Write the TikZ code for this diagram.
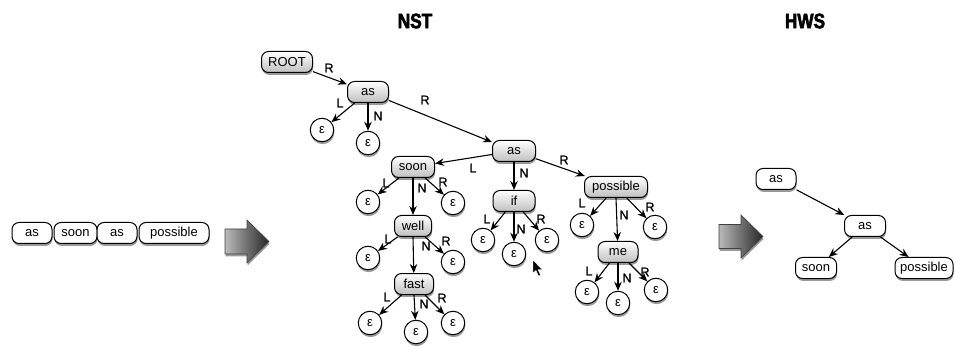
\documentclass[tikz,border=0pt]{standalone}
\usepackage{fontspec}
\setmainfont{Liberation Sans}
\newfontfamily\titlefont{Liberation Sans}[UprightFont={* Bold}, FakeBold=2.5, FakeStretch=0.82]
\newfontfamily\lblfont{Liberation Sans}[FakeBold=1]
\usetikzlibrary{shadows,arrows.meta}

\tikzset{
  shade/.style={drop shadow={shadow xshift=0.6pt, shadow yshift=-2.4pt, opacity=0.4, fill=black}},
  box/.style={rounded corners=7pt, draw=black, line width=1pt, minimum height=21pt,
    inner xsep=4pt, inner ysep=2pt, font=\fontsize{13}{15}\selectfont, shade},
  graybox/.style={box, top color=white, bottom color=gray!50},
  whitebox/.style={box, fill=white},
  eps/.style={circle, draw=black, line width=1pt, fill=white, minimum size=23.5pt,
    inner sep=0pt, font=\fontsize{13}{15}\selectfont, shade},
  lbl/.style={font=\lblfont\fontsize{12.5}{14}\selectfont, inner sep=0pt},
  link/.style={draw=black, line width=1.1pt, -{Stealth[length=9pt,width=7.5pt]}},
  bigarrow/.style={draw=black!75, line width=0.6pt, left color=gray!55,
    right color=gray!30!black, shade},
  title/.style={font=\titlefont\fontsize{21}{23}\selectfont}
}

\begin{document}
\begin{tikzpicture}[x=1pt, y=-1pt]
\useasboundingbox[fill=white] (0,0) rectangle (955,347);

% titles
\node[title] (tnst) at (415,21) {NST};
\node[title] (thws) at (805,21) {HWS};

% input sequence
\node[whitebox, minimum width=40pt] (w1) at (32,233) {as};
\node[whitebox, minimum width=43pt] (w2) at (75.5,233) {soon};
\node[whitebox, minimum width=40pt] (w3) at (117,233) {as};
\node[whitebox, minimum width=70pt] (w4) at (174,233) {possible};

% transition arrows
\path[bigarrow] (225,229) -- (247,229) -- (247,220) -- (269,241.5) -- (247,263)
  -- (247,254) -- (225,254) -- cycle;
\path[bigarrow] (719,224.5) -- (741,224.5) -- (741,215) -- (763,236.5) -- (741,258)
  -- (741,248.5) -- (719,248.5) -- cycle;

% NST tree
\node[graybox, minimum width=51pt] (root) at (287,62) {ROOT};
\node[graybox, minimum width=41pt] (as1) at (368,92) {as};
\node[eps] (e1) at (322,130) {ε};
\node[eps] (e2) at (368,143) {ε};
\node[graybox, minimum width=43pt] (as2) at (514,151) {as};

\node[graybox, minimum width=43pt] (soon) at (413,167) {soon};
\node[eps] (e3) at (368,202) {ε};
\node[eps] (e4) at (453,203) {ε};
\node[graybox, minimum width=37pt] (well) at (413,226) {well};
\node[eps] (e5) at (368,258) {ε};
\node[eps] (e6) at (453,262) {ε};
\node[graybox, minimum width=39pt] (fast) at (414,284) {fast};
\node[eps] (e7) at (370,323) {ε};
\node[eps] (e8) at (416,332) {ε};
\node[eps] (e9) at (453,323) {ε};

\node[graybox, minimum width=42pt] (if) at (514,201) {if};
\node[eps] (e10) at (483,240) {ε};
\node[eps] (e11) at (514,254) {ε};
\node[eps] (e12) at (547,240) {ε};

\node[graybox, minimum width=63pt] (poss) at (616,187) {possible};
\node[eps] (e13) at (582,225) {ε};
\node[eps] (e14) at (655,227) {ε};
\node[graybox, minimum width=40pt] (me) at (618,252) {me};
\node[eps] (e15) at (587,292) {ε};
\node[eps] (e16) at (618,303) {ε};
\node[eps] (e17) at (656,290) {ε};

% NST connectors
\draw[link] (root) -- (as1);
\draw[link] (as1) -- (e1);
\draw[link] (as1.south) -- (e2);
\draw[link] (as1) -- (as2);
\draw[link] (as2) -- (soon);
\draw[link] (as2.south) -- (if);
\draw[link] (as2) -- (poss);
\draw[link] (soon) -- (e3);
\draw[link] (soon.south) -- (well);
\draw[link] (soon) -- (e4);
\draw[link] (well) -- (e5);
\draw[link] (well.south) -- (fast);
\draw[link] (well) -- (e6);
\draw[link] (fast) -- (e7);
\draw[link] (fast.south) -- (e8);
\draw[link] (fast) -- (e9);
\draw[link] (if) -- (e10);
\draw[link] (if.south) -- (e11);
\draw[link] (if) -- (e12);
\draw[link] (poss) -- (e13);
\draw[link] (poss.south) -- (me);
\draw[link] (poss) -- (e14);
\draw[link] (me) -- (e15);
\draw[link] (me.south) -- (e16);
\draw[link] (me) -- (e17);

% edge labels
\node[lbl] (l1) at (329,68) {R};
\node[lbl] (l2) at (340,103) {L};
\node[lbl] (l3) at (378,116) {N};
\node[lbl] (l4) at (425,100) {R};
\node[lbl] (l5) at (473,168) {L};
\node[lbl] (l6) at (524,173) {N};
\node[lbl] (l7) at (564,160) {R};
\node[lbl] (l8) at (386,183) {L};
\node[lbl] (l9) at (422,188) {N};
\node[lbl] (l10) at (443,182) {R};
\node[lbl] (l11) at (388,239) {L};
\node[lbl] (l12) at (426,246) {N};
\node[lbl] (l13) at (446,241) {R};
\node[lbl] (l14) at (387,297) {L};
\node[lbl] (l15) at (424,304) {N};
\node[lbl] (l16) at (442,298) {R};
\node[lbl] (l17) at (487,219) {L};
\node[lbl] (l18) at (521,229) {N};
\node[lbl] (l19) at (541,219) {R};
\node[lbl] (l20) at (582,203) {L};
\node[lbl] (l21) at (624,215) {N};
\node[lbl] (l22) at (650,207) {R};
\node[lbl] (l23) at (589,271) {L};
\node[lbl] (l24) at (627,278) {N};
\node[lbl] (l25) at (645,272) {R};

% mouse pointer
\filldraw[fill=black, draw=white, line width=0.4pt]
  (533,260) -- (533,273) -- (536,270.5) -- (538.5,276) -- (540.5,275) -- (538,269.5) -- (542,269.5) -- cycle;

% HWS tree
\node[whitebox, minimum width=40pt] (h1) at (776,179) {as};
\node[whitebox, minimum width=41pt] (h2) at (865,226) {as};
\node[whitebox, minimum width=41pt] (h3) at (816,268) {soon};
\node[whitebox, minimum width=58pt] (h4) at (924,268) {possible};
\draw[link] (h1) -- (h2);
\draw[link] (h2) -- (h3);
\draw[link] (h2) -- (h4);
\end{tikzpicture}
\end{document}
